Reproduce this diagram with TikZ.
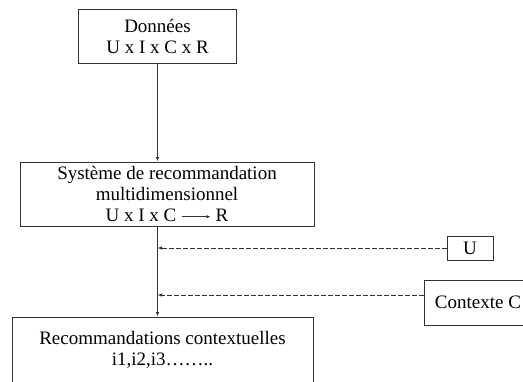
\documentclass[tikz,border=0pt]{standalone}
\usepackage{fontspec}
\setmainfont{Liberation Serif}
\usetikzlibrary{arrows.meta, calc}
\definecolor{framegray}{RGB}{50,50,50}

\begin{document}
\begin{tikzpicture}[
    x=1pt, y=-1pt,
    >={Latex[length=4.5pt,width=3.5pt]},
    txt/.style={font=\fontsize{19}{20.7}\selectfont},
    box/.style={draw=framegray, line width=1pt, inner sep=0pt, align=center, txt},
    link/.style={->, draw=framegray, line width=1pt},
    dlink/.style={link, dash pattern=on 4.5pt off 2.5pt},
]

% ── Page frame (the right and lower boxes run past the edge) ───────────────
\useasboundingbox (0,0) rectangle (523,381);
\clip (0,0) rectangle (523,381);

% ── Boxes ───────────────────────────────────────────────────────────────────
\node[box, minimum width=158pt, minimum height=54pt] (don) at (157.5,36.5)
    {Données\\U x I x C x R};

\node[box, minimum width=294pt, minimum height=64pt] (sys) at (167,194)
    {Système de recommandation\\multidimensionnel\\
     U x I x C \tikz[baseline]\draw[framegray, line width=0.8pt,
        -{Latex[length=4pt,width=3.5pt]}] (0pt,4.5pt) -- (29pt,4.5pt);\ R};

\node[box, minimum width=301pt, minimum height=66pt] (rec) at (162.5,350)
    {Recommandations contextuelles\\i1,i2,i3……..};

\node[box, minimum width=46pt, minimum height=24pt] (usr) at (470,248) {U};

\node[box, minimum width=108pt, minimum height=45pt] (ctx) at (478,302.5)
    {Contexte C};

% ── Main flow ───────────────────────────────────────────────────────────────
\draw[link] (don.south) -- (don.south |- sys.north);
\coordinate (split) at (don.south |- sys.south);
\draw[link] (split) -- (split |- rec.north);

% ── Inputs of the query ─────────────────────────────────────────────────────
\draw[dlink] (usr.west) -- (split |- usr.west);
\coordinate (ctxout) at ($(ctx.west)+(0,-7.5)$);
\draw[dlink] (ctxout) -- (split |- ctxout);

\end{tikzpicture}
\end{document}
